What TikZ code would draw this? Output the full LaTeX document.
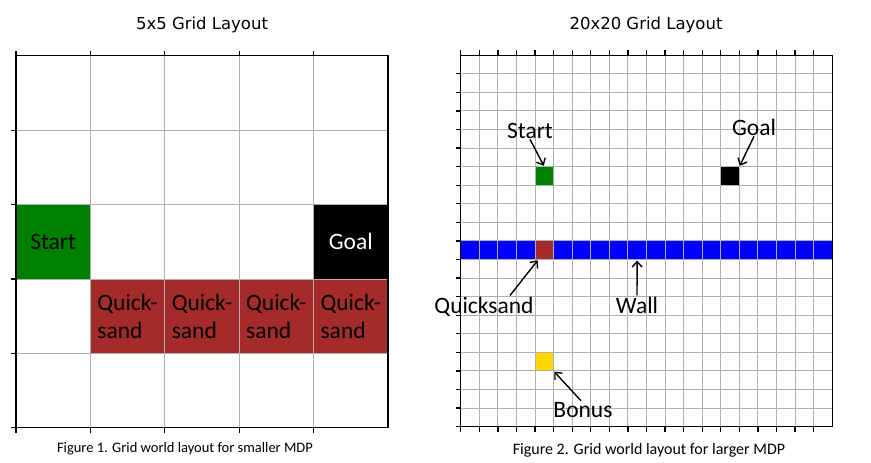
\documentclass[tikz,border=0pt]{standalone}
\usepackage{fontspec}
\setmainfont{Carlito}
\newfontfamily\titlefont{DejaVu Sans}
\usetikzlibrary{arrows.meta,positioning}
\definecolor{startcol}{RGB}{0,128,0}
\definecolor{sandcol}{RGB}{165,42,42}
\definecolor{wallcol}{RGB}{0,0,255}
\definecolor{bonuscol}{RGB}{255,215,0}
\definecolor{gridcol}{RGB}{176,176,176}
\def\ca{74.4}
\def\cb{18.575}

\begin{document}
\begin{tikzpicture}[
  x=1pt, y=-1pt,
  >={Straight Barb[length=5.5pt,width=10pt]},
  cell/.style={minimum size=#1pt, inner sep=0pt, outer sep=0pt,
               font=\fontsize{23.5}{28}\selectfont},
  lbl/.style={anchor=base, inner sep=1pt, font=\fontsize{23.5}{28}\selectfont},
  ttl/.style={font=\titlefont\fontsize{16.5}{20}\selectfont},
  capt/.style={font=\fontsize{#1}{17}\selectfont},
  grd/.style={gridcol, line width=1pt},
  ax/.style={black, line width=1.3pt},
  e/.style={->, line width=1.4pt, shorten >=1pt},
]
\useasboundingbox (0,0) rectangle (871,463);

\node[ttl] (t1) at (202,25) {5x5 Grid Layout};
\node[ttl] (t2) at (646,25) {20x20 Grid Layout};

% 5x5 layout
\begin{scope}[shift={(16,55.8)}]
\node[cell=\ca, fill=startcol] (s1) at (0.5*\ca,2.5*\ca) {Start};
\node[cell=\ca, fill=black, text=white] (g1) at (4.5*\ca,2.5*\ca) {Goal};
\foreach \i in {1,...,4}
  \node[cell=\ca, fill=sandcol, align=left] (q\i) at ({(\i+0.5)*\ca},3.5*\ca) {Quick-\\sand};
\foreach \i in {0,...,5} {
  \draw[grd] (\i*\ca,0) -- (\i*\ca,5*\ca);
  \draw[grd] (0,\i*\ca) -- (5*\ca,\i*\ca);
}
\draw[ax] (0,0) rectangle (5*\ca,5*\ca);
\foreach \i in {0,...,4} {
  \draw[ax] (\i*\ca,0) -- ++(0,-5);
  \draw[ax] (\i*\ca,5*\ca) -- ++(0,5);
  \draw[ax] (0,{(\i+1)*\ca}) -- ++(-5,0);
}
\end{scope}

% 20x20 layout
\begin{scope}[shift={(460.7,55.2)}]
\foreach \i in {0,...,19}
  \node[cell=\cb, fill=wallcol] (w\i) at ({(\i+0.5)*\cb},10.5*\cb) {};
\node[cell=\cb, fill=sandcol] (q5) at (4.5*\cb,10.5*\cb) {};
\node[cell=\cb, fill=startcol] (s2) at (4.5*\cb,6.5*\cb) {};
\node[cell=\cb, fill=black] (g2) at (14.5*\cb,6.5*\cb) {};
\node[cell=\cb, fill=bonuscol] (b2) at (4.5*\cb,16.5*\cb) {};
\foreach \i in {0,...,20} {
  \draw[grd] (\i*\cb,0) -- (\i*\cb,20*\cb);
  \draw[grd] (0,\i*\cb) -- (20*\cb,\i*\cb);
}
\draw[ax] (0,0) rectangle (20*\cb,20*\cb);
\foreach \i in {0,...,19} {
  \draw[ax] (\i*\cb,0) -- ++(0,-5);
  \draw[ax] (\i*\cb,20*\cb) -- ++(0,5);
  \draw[ax] (0,{(\i+1)*\cb}) -- ++(-5,0);
}
\end{scope}

\node[lbl] (ls) at (530,138) {Start};
\node[lbl] (lg) at (754,135) {Goal};
\node[lbl] (lq) at (484,313) {Quicksand};
\node[lbl] (lw) at (637,313) {Wall};
\node[lbl] (lb) at (583,417) {Bonus};

\draw[e] (ls.south) -- (s2.north);
\draw[e] (lg.south) -- (g2.north east);
\draw[e] ([xshift=26pt]lq.north) -- ([xshift=-6pt]q5.south);
\draw[e] (lw.north) -- (w9.south);
\draw[e] ([xshift=-2pt]lb.north) -- (b2.south east);

\node[capt=14.5] (f1) at (185,449) {Figure 1. Grid world layout for smaller MDP};
\node[capt=16] (f2) at (649,450) {Figure 2. Grid world layout for larger MDP};
\end{tikzpicture}
\end{document}
